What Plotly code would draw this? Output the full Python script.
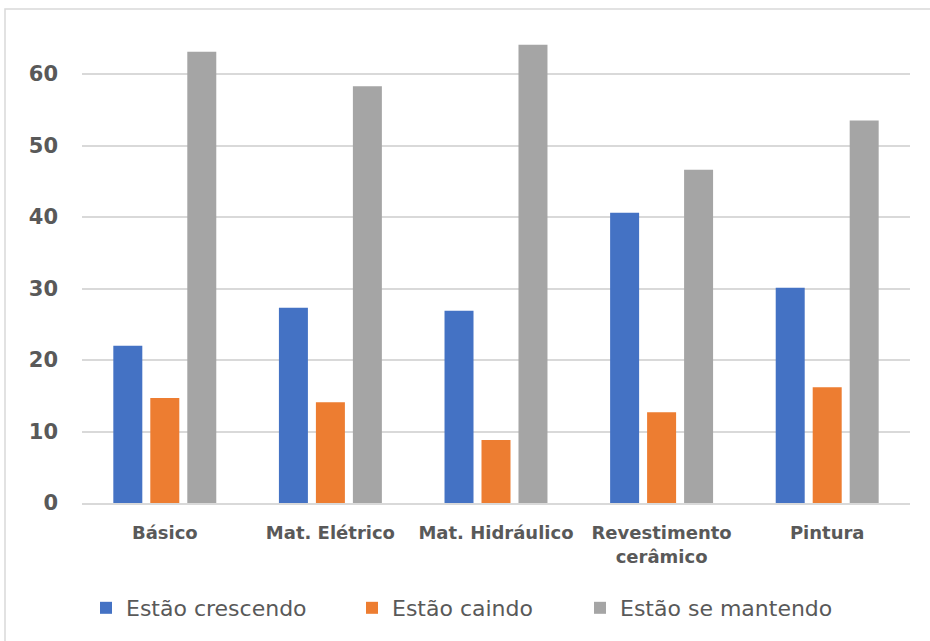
import plotly.graph_objects as go

categories = ["Básico", "Mat. Elétrico", "Mat. Hidráulico", "Revestimento<br>cerâmico", "Pintura"]
crescendo = [22.0, 27.3, 26.9, 40.6, 30.1]
caindo = [14.7, 14.1, 8.8, 12.7, 16.2]
mantendo = [63.1, 58.3, 64.1, 46.6, 53.5]

series_names = ["Estão crescendo", "Estão caindo", "Estão se mantendo"]
series_values = [crescendo, caindo, mantendo]
colors = ["#4472C4", "#ED7D31", "#A5A5A5"]

W, H = 930, 641
L, R, T, B = 82, 20, 10, 138
pw, ph = W - L - R, H - T - B

# one legend per series so each entry can sit at its own spot
legend_ids = ["legend", "legend2", "legend3"]
legend_left_px = [86, 352, 580]

fig = go.Figure()
for name, vals, col, lid in zip(series_names, series_values, colors, legend_ids):
    fig.add_trace(go.Bar(x=categories, y=vals, name=name, marker_color=col,
                         marker_line_width=0, legend=lid))

legend_style = dict(orientation="h", xanchor="left", y=-0.213, yanchor="middle",
                    font=dict(size=22, color="#595959", family="DejaVu Sans, sans-serif"),
                    itemwidth=30, bgcolor="rgba(0,0,0,0)")
legends = {}
for lid, px in zip(legend_ids, legend_left_px):
    legends[lid] = dict(legend_style, x=(px - L) / pw)

fig.update_layout(
    width=W, height=H,
    margin=dict(l=L, r=R, t=T, b=B),
    plot_bgcolor="white", paper_bgcolor="white",
    barmode="group", bargap=0.33, bargroupgap=0.216,
    font=dict(family="DejaVu Sans, sans-serif", color="#595959"),
    showlegend=True,
    **legends,
)
fig.update_yaxes(range=[0, ph / 7.15], tickvals=[0, 10, 20, 30, 40, 50, 60],
                 showgrid=True, gridcolor="#D9D9D9", gridwidth=1.5,
                 zeroline=False, showline=False,
                 tickfont=dict(size=21, color="#595959", family="DejaVu Sans, sans-serif", weight="bold"),
                 ticklabelstandoff=23)
fig.update_xaxes(showline=True, linecolor="#D9D9D9", linewidth=1.5,
                 tickfont=dict(size=18, color="#595959", family="DejaVu Sans, sans-serif", weight="bold"),
                 ticklabelstandoff=13)

# outer chart frame
fig.add_shape(type="rect", xref="paper", yref="paper",
              x0=(5 - L) / pw, x1=(W + 5 - L) / pw,
              y0=(T + ph - H - 10) / ph, y1=(T + ph - 9) / ph,
              line=dict(color="#D9D9D9", width=1.5), layer="below")

fig.write_html("out.html")
